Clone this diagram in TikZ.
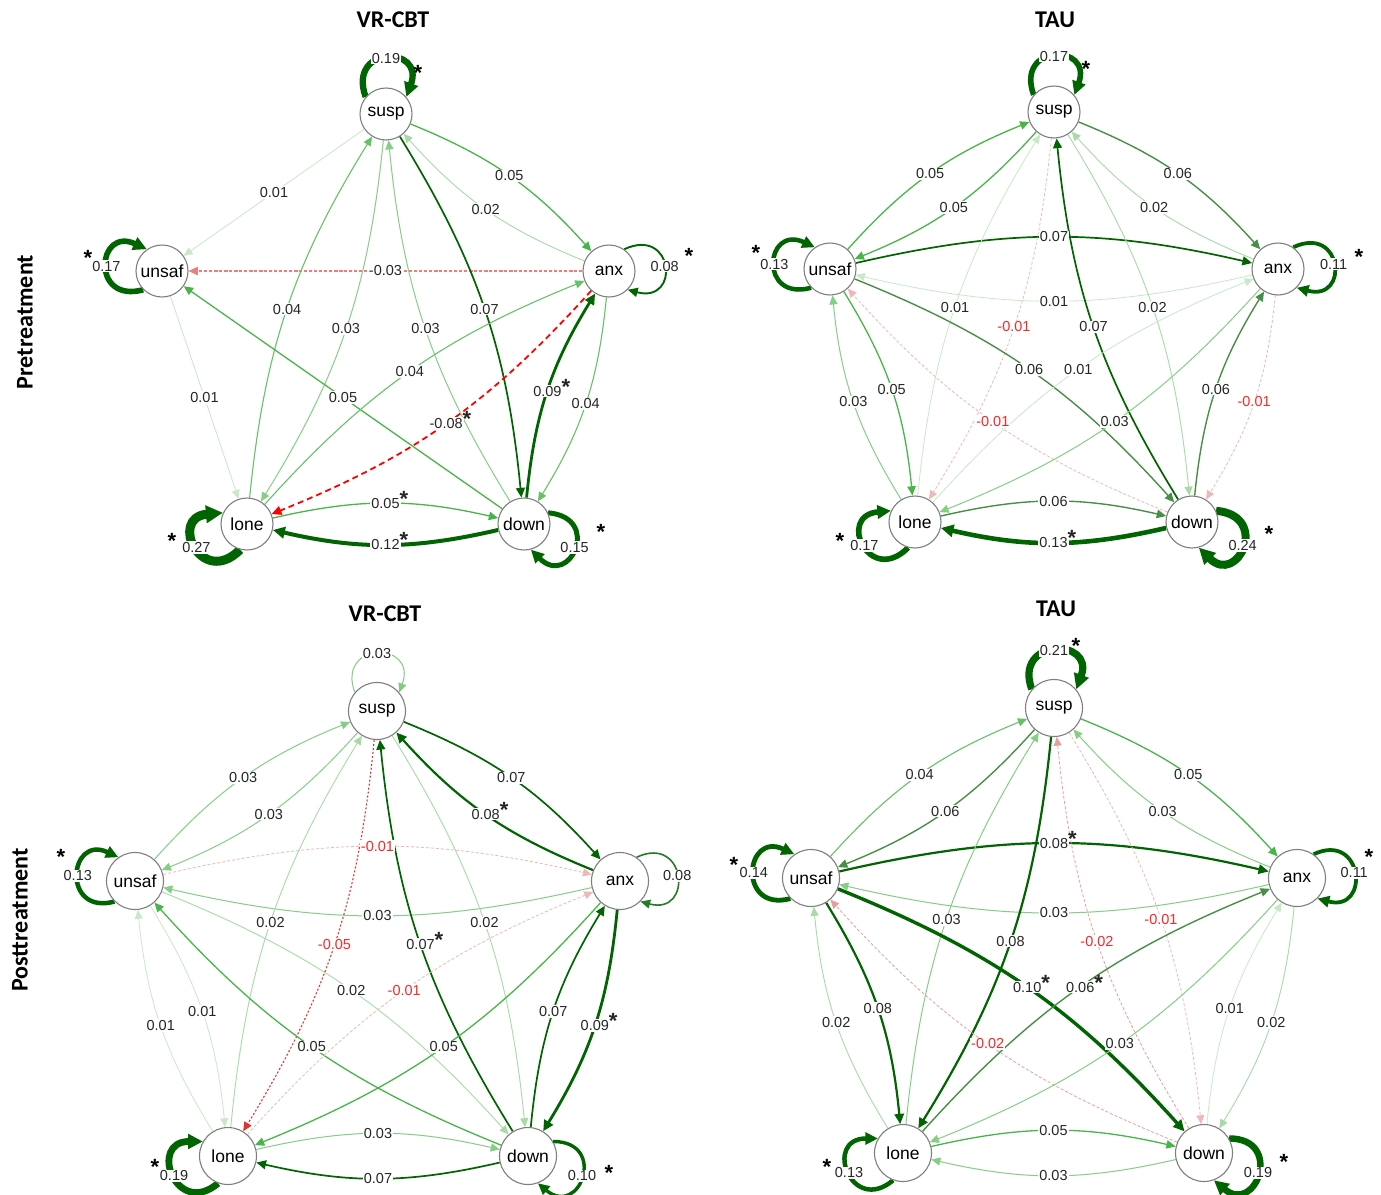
\documentclass[tikz,border=0pt]{standalone}
\usepackage{fontspec}
\setmainfont{Liberation Sans}
\newfontfamily\headfont{Carlito}
\usetikzlibrary{arrows.meta,backgrounds}

\definecolor{gA}{HTML}{009900}
\definecolor{gD}{HTML}{006400}
\definecolor{rA}{HTML}{C20000}
\definecolor{ncirc}{HTML}{7F7F7F}
\definecolor{labred}{RGB}{250,40,40}

% significance mark attached to an edge weight
\newcommand\sg{\rlap{\smash{\raisebox{2pt}{\fontsize{22}{22}\selectfont\bfseries *}}}}

\tikzset{
  vx/.style={circle, draw=ncirc, line width=1.1pt, fill=white, minimum size=52pt,
    inner sep=0pt, font=\fontsize{17.5}{17.5}\selectfont},
  vxb/.style={vx, minimum size=57pt},
  elab/.style={fill=white, inner sep=1pt, font=\fontsize{14.5}{15}\selectfont, text=black!85},
  nl/.style={text=labred},
  ed/.style={-{Triangle[length=8pt 1.0,width=7pt 1.1]}},
  p1/.style={ed, draw=gA!22!white, line width=0.8pt},
  p2/.style={ed, draw=gA!35!white, line width=0.9pt},
  p3/.style={ed, draw=gA!48!white, line width=1pt},
  p4/.style={ed, draw=gA!60!white, line width=1.1pt},
  p5/.style={ed, draw=gA!72!white, line width=1.3pt},
  p6/.style={ed, draw=gD!72!white, line width=1.4pt},
  p7/.style={ed, draw=gD, line width=1.7pt},
  p8/.style={ed, draw=gD, line width=2.2pt},
  p9/.style={ed, draw=gD, line width=2.8pt},
  p10/.style={ed, draw=gD, line width=3.4pt},
  p12/.style={ed, draw=gD, line width=4pt},
  p13/.style={ed, draw=gD, line width=4.6pt},
  n1/.style={ed, draw=rA!28!white, line width=0.8pt, dash pattern=on 3pt off 2pt},
  n2/.style={ed, draw=rA!38!white, line width=0.8pt, dash pattern=on 3pt off 2pt},
  n3/.style={ed, draw={rgb,255:red,240;green,125;blue,125}, line width=1.2pt, dash pattern=on 3pt off 2pt},
  n5/.style={ed, draw={rgb,255:red,225;green,50;blue,50}, line width=1.1pt, dash pattern=on 2pt off 2pt},
  n8/.style={ed, draw=red, line width=1.8pt, dash pattern=on 6pt off 4pt},
  ttl/.style={font=\headfont\bfseries\fontsize{24}{24}\selectfont},
  starn/.style={font=\bfseries\fontsize{22}{22}\selectfont, inner sep=0pt, anchor=base, yshift=-12.5pt},
}

% edge: from, to, style, bend, weight text, label style
\newcommand\Edraw[6]{\draw[#3] (#1) to[bend left=#4] (#2);}
\newcommand\Elab[6]{\path (#1) to[bend left=#4] node[elab,#6]{#5} (#2);}
% self loop: node, direction, style, weight text
\newcommand\loopang[1]{%
  \pgfmathtruncatemacro\la{mod(#1+50,360)}%
  \pgfmathtruncatemacro\lb{mod(#1+310,360)}%
  \pgfmathtruncatemacro\ca{mod(#1+20,360)}%
  \pgfmathtruncatemacro\cb{mod(#1+340,360)}}
\newcommand\Ldraw[4]{\loopang{#2}%
  \draw[ed,#3] (#1.\la) .. controls +(\ca:55) and +(\cb:55) .. (#1.\lb);}
\newcommand\Llab[4]{\loopang{#2}%
  \path (#1.\la) .. controls +(\ca:55) and +(\cb:55) .. (#1.\lb) node[pos=.5,elab]{#4};}
\newcommand\E{}\newcommand\LP{}
\newcommand\bd{13}

% ---------- pretreatment, VR-CBT ----------
\newcommand\netA{%
  \E{As}{Au}{p1}{0}{0.01}{}
  \E{As}{Aa}{p5}{\bd}{0.05}{}
  \E{Aa}{As}{p2}{\bd}{0.02}{}
  \E{Aa}{Au}{n3}{0}{-0.03}{}
  \E{Al}{As}{p4}{\bd}{0.04}{}
  \E{As}{Al}{p3}{\bd}{0.03}{}
  \E{Ad}{As}{p3}{\bd}{0.03}{}
  \E{As}{Ad}{p7}{\bd}{0.07}{}
  \E{Ad}{Au}{p5}{0}{0.05}{}
  \E{Au}{Al}{p1}{0}{0.01}{}
  \E{Al}{Aa}{p4}{\bd}{0.04}{}
  \E{Aa}{Al}{n8}{\bd}{-0.08\sg}{}
  \E{Ad}{Aa}{p9}{\bd}{0.09\sg}{}
  \E{Aa}{Ad}{p4}{\bd}{0.04}{}
  \E{Al}{Ad}{p5}{\bd}{0.05\sg}{}
  \E{Ad}{Al}{p12}{\bd}{0.12\sg}{}
  \LP{As}{90}{draw=gD,line width=6.3pt}{0.19}
  \LP{Au}{175}{draw=gD,line width=5.6pt}{0.17}
  \LP{Aa}{5}{draw=gD,line width=1.9pt}{0.08}
  \LP{Al}{205}{draw=gD,line width=9pt}{0.27}
  \LP{Ad}{335}{draw=gD,line width=5pt}{0.15}}

% ---------- pretreatment, TAU ----------
\newcommand\netB{%
  \E{Bu}{Bs}{p5}{\bd}{0.05}{}
  \E{Bs}{Bu}{p5}{\bd}{0.05}{}
  \E{Bs}{Ba}{p6}{\bd}{0.06}{}
  \E{Ba}{Bs}{p2}{\bd}{0.02}{}
  \E{Bu}{Ba}{p7}{\bd}{0.07}{}
  \E{Ba}{Bu}{p1}{\bd}{0.01}{}
  \E{Bu}{Bl}{p5}{\bd}{0.05}{}
  \E{Bl}{Bu}{p3}{\bd}{0.03}{}
  \E{Bl}{Bs}{p1}{\bd}{0.01}{}
  \E{Bs}{Bl}{n1}{\bd}{-0.01}{nl}
  \E{Bs}{Bd}{p2}{\bd}{0.02}{}
  \E{Bd}{Bs}{p7}{\bd}{0.07}{}
  \E{Bu}{Bd}{p6}{\bd}{0.06}{}
  \E{Bd}{Bu}{n1}{\bd}{-0.01}{nl}
  \E{Bl}{Ba}{p1}{\bd}{0.01}{}
  \E{Ba}{Bl}{p3}{\bd}{0.03}{}
  \E{Bd}{Ba}{p6}{\bd}{0.06}{}
  \E{Ba}{Bd}{n1}{\bd}{-0.01}{nl}
  \E{Bl}{Bd}{p6}{\bd}{0.06}{}
  \E{Bd}{Bl}{p13}{\bd}{0.13\sg}{}
  \LP{Bs}{90}{draw=gD,line width=5.6pt}{0.17}
  \LP{Bu}{175}{draw=gD,line width=4.5pt}{0.13}
  \LP{Ba}{5}{draw=gD,line width=3.8pt}{0.11}
  \LP{Bl}{205}{draw=gD,line width=5.6pt}{0.17}
  \LP{Bd}{335}{draw=gD,line width=8pt}{0.24}}

% ---------- posttreatment, VR-CBT ----------
\newcommand\netC{%
  \E{Cu}{Cs}{p3}{\bd}{0.03}{}
  \E{Cs}{Cu}{p3}{\bd}{0.03}{}
  \E{Cs}{Ca}{p7}{\bd}{0.07}{}
  \E{Ca}{Cs}{p8}{\bd}{0.08\sg}{}
  \E{Cu}{Ca}{n1}{\bd}{-0.01}{nl}
  \E{Ca}{Cu}{p3}{\bd}{0.03}{}
  \E{Cu}{Cl}{p1}{\bd}{0.01}{}
  \E{Cl}{Cu}{p1}{\bd}{0.01}{}
  \E{Cl}{Cs}{p2}{\bd}{0.02}{}
  \E{Cs}{Cl}{n5}{\bd}{-0.05}{nl}
  \E{Cs}{Cd}{p2}{\bd}{0.02}{}
  \E{Cd}{Cs}{p7}{\bd}{0.07\sg}{}
  \E{Cu}{Cd}{p2}{\bd}{0.02}{}
  \E{Cd}{Cu}{p5}{\bd}{0.05}{}
  \E{Cl}{Ca}{n1}{\bd}{-0.01}{nl}
  \E{Ca}{Cl}{p5}{\bd}{0.05}{}
  \E{Ca}{Cd}{p9}{\bd}{0.09\sg}{}
  \E{Cd}{Ca}{p7}{\bd}{0.07}{}
  \E{Cl}{Cd}{p3}{\bd}{0.03}{}
  \E{Cd}{Cl}{p7}{\bd}{0.07}{}
  \LP{Cs}{90}{draw=gA!50!white,line width=1pt}{0.03}
  \LP{Cu}{175}{draw=gD,line width=4.5pt}{0.13}
  \LP{Ca}{5}{draw=gD!85!white,line width=1.6pt}{0.08}
  \LP{Cl}{200}{draw=gD,line width=6.8pt}{0.19}
  \LP{Cd}{340}{draw=gD,line width=3.4pt}{0.10}}

% ---------- posttreatment, TAU ----------
\newcommand\netD{%
  \E{Du}{Ds}{p4}{\bd}{0.04}{}
  \E{Ds}{Du}{p6}{\bd}{0.06}{}
  \E{Ds}{Da}{p5}{\bd}{0.05}{}
  \E{Da}{Ds}{p3}{\bd}{0.03}{}
  \E{Du}{Da}{p8}{\bd}{0.08\sg}{}
  \E{Da}{Du}{p3}{\bd}{0.03}{}
  \E{Du}{Dl}{p8}{\bd}{0.08}{}
  \E{Dl}{Du}{p2}{\bd}{0.02}{}
  \E{Dl}{Ds}{p3}{\bd}{0.03}{}
  \E{Ds}{Dl}{p8}{\bd}{0.08}{}
  \E{Ds}{Dd}{n1}{\bd}{-0.01}{nl}
  \E{Dd}{Ds}{n2}{\bd}{-0.02}{nl}
  \E{Du}{Dd}{p10}{\bd}{0.10\sg}{}
  \E{Dd}{Du}{n2}{\bd}{-0.02}{nl}
  \E{Dl}{Da}{p6}{\bd}{0.06\sg}{}
  \E{Da}{Dl}{p3}{\bd}{0.03}{}
  \E{Da}{Dd}{p2}{\bd}{0.02}{}
  \E{Dd}{Da}{p1}{\bd}{0.01}{}
  \E{Dl}{Dd}{p5}{\bd}{0.05}{}
  \E{Dd}{Dl}{p3}{\bd}{0.03}{}
  \LP{Ds}{90}{draw=gD,line width=7.2pt}{0.21}
  \LP{Du}{175}{draw=gD,line width=4.8pt}{0.14}
  \LP{Da}{5}{draw=gD,line width=3.8pt}{0.11}
  \LP{Dl}{200}{draw=gD,line width=4.5pt}{0.13}
  \LP{Dd}{340}{draw=gD,line width=6.5pt}{0.19}}

\begin{document}
\begin{tikzpicture}[x=1pt,y=1pt]
\path[use as bounding box] (0,0) rectangle (1381,-1194);
\begin{scope}[on background layer]
  \fill[white] (0,0) rectangle (1381,-1194);
\end{scope}

% headings
\node[ttl] (hA) at (393,-20) {VR-CBT};
\node[ttl] (hB) at (1055,-20) {TAU};
\node[ttl] (hC) at (385,-614) {VR-CBT};
\node[ttl] (hD) at (1056,-609) {TAU};
\node[ttl,rotate=90] (rPre) at (25,-322) {Pretreatment};
\node[ttl,rotate=90] (rPost) at (20,-920) {Posttreatment};

% symptom nodes
\node[vx] (As) at (386,-114) {susp};
\node[vx] (Au) at (162,-271) {unsaf};
\node[vx] (Aa) at (609,-271) {anx};
\node[vx] (Al) at (247,-524) {lone};
\node[vx] (Ad) at (524,-524) {down};

\node[vx] (Bs) at (1054,-112) {susp};
\node[vx] (Bu) at (830,-269) {unsaf};
\node[vx] (Ba) at (1278,-269) {anx};
\node[vx] (Bl) at (915,-522) {lone};
\node[vx] (Bd) at (1192,-522) {down};

\node[vxb] (Cs) at (377,-711) {susp};
\node[vxb] (Cu) at (135,-881) {unsaf};
\node[vxb] (Ca) at (620,-881) {anx};
\node[vxb] (Cl) at (228,-1156) {lone};
\node[vxb] (Cd) at (528,-1156) {down};

\node[vxb] (Ds) at (1054,-708) {susp};
\node[vxb] (Du) at (811,-878) {unsaf};
\node[vxb] (Da) at (1297,-878) {anx};
\node[vxb] (Dl) at (903,-1153) {lone};
\node[vxb] (Dd) at (1204,-1153) {down};

% edges under the nodes (drawn after the white page fill)
\begin{scope}[on background layer]
  \let\E\Edraw \let\LP\Ldraw
  \netA \netB \netC \netD
\end{scope}

% weight labels over the edges
\let\E\Elab \let\LP\Llab
\netA \netB \netC \netD

% significance marks of the self loops
\node[starn] (kA1) at (418,-68) {*};
\node[starn] (kA2) at (88,-253) {*};
\node[starn] (kA3) at (689,-251) {*};
\node[starn] (kA4) at (172,-536) {*};
\node[starn] (kA5) at (601,-527) {*};
\node[starn] (kB1) at (1086,-64) {*};
\node[starn] (kB2) at (756,-248) {*};
\node[starn] (kB3) at (1359,-252) {*};
\node[starn] (kB4) at (840,-536) {*};
\node[starn] (kB5) at (1269,-529) {*};
\node[starn] (kC2) at (61,-852) {*};
\node[starn] (kC4) at (155,-1162) {*};
\node[starn] (kC5) at (609,-1168) {*};
\node[starn] (kD1) at (1076,-641) {*};
\node[starn] (kD2) at (734,-860) {*};
\node[starn] (kD3) at (1369,-852) {*};
\node[starn] (kD4) at (827,-1162) {*};
\node[starn] (kD5) at (1284,-1157) {*};
\end{tikzpicture}
\end{document}
